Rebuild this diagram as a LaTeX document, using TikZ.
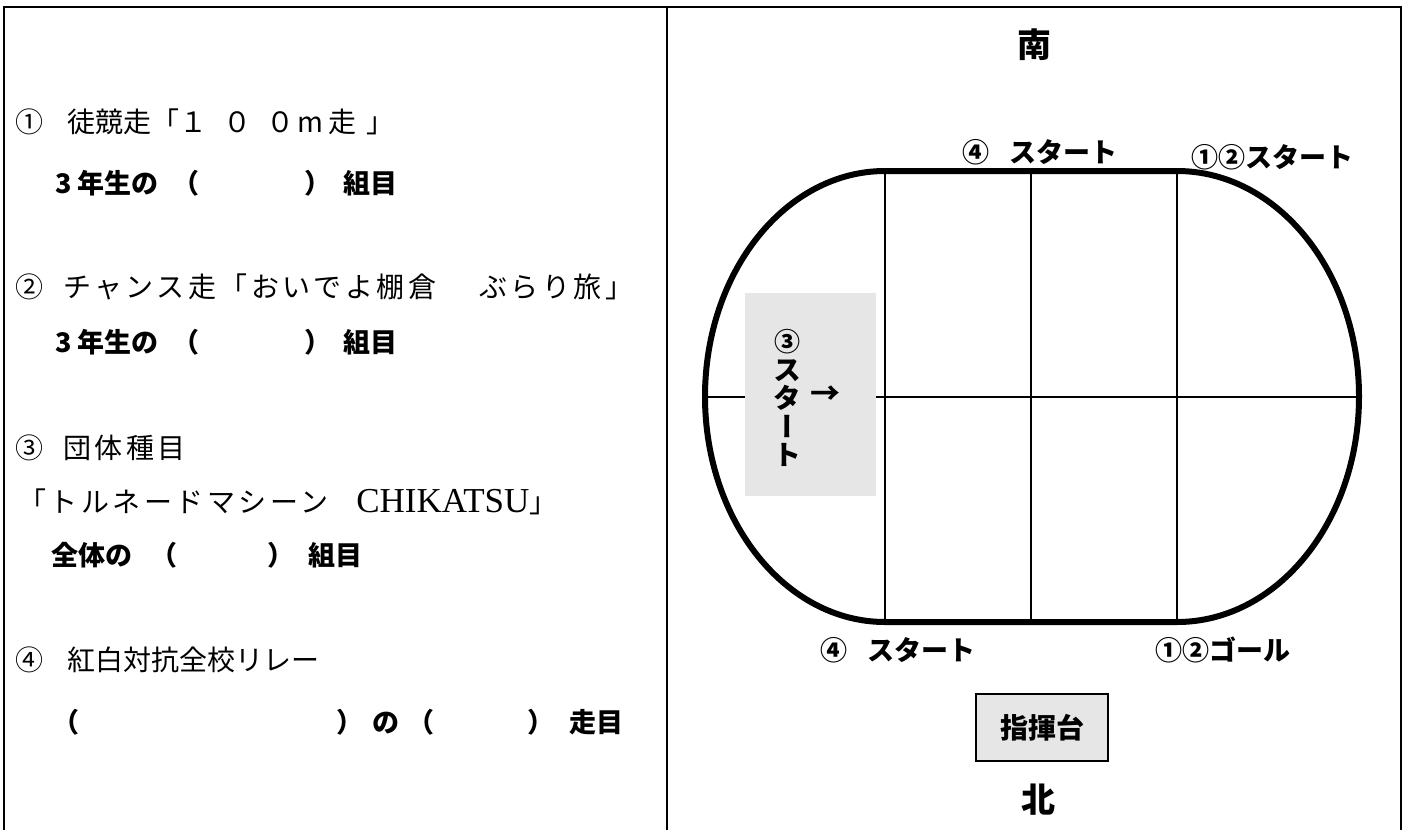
\documentclass[tikz,border=0pt]{standalone}
\usepackage{fontspec}
\newfontfamily\jp{Noto Sans CJK JP}
\newfontfamily\jpwide{Noto Sans CJK JP}[LetterSpace=12.5]
\newfontfamily\jpv{Noto Sans CJK JP}[RawFeature=+vert]
\newfontfamily\lserif{Liberation Serif}
\definecolor{boxgray}{RGB}{230,230,230}
\tikzset{
  frameline/.style={line width=2pt},
  thinline/.style={line width=2pt},
  trackline/.style={line width=6pt},
  mincho/.style={anchor=west, inner sep=0pt, font=\jp\fontsize{28}{28}\selectfont},
  minchowide/.style={anchor=west, inner sep=0pt, font=\jpwide\fontsize{28}{28}\selectfont},
  goth/.style={anchor=west, inner sep=0pt, font=\jp\bfseries\fontsize{27}{27}\selectfont},
  heavy/.style={inner sep=0pt, font=\jp\bfseries\fontsize{27}{27}\selectfont},
  compass/.style={inner sep=0pt, font=\jp\bfseries\fontsize{34}{34}\selectfont},
}
\begin{document}
\begin{tikzpicture}[x=1pt,y=-1pt]
\useasboundingbox (0,0) rectangle (1407,830);
% frame
\coordinate (fbl) at (4,830);
\coordinate (ftl) at (4,7);
\coordinate (ftr) at (1401,7);
\coordinate (fbr) at (1401,830);
\coordinate (dtop) at (667,7);
\coordinate (dbot) at (667,830);
\draw[frameline] (fbl) -- (ftl) -- (ftr) -- (fbr);
\draw[frameline] (dtop) -- (dbot);
% left column text
\node[mincho] (l1) at (15,122) {①\hspace{24pt}徒競走「１\hspace{16pt}０\hspace{15pt}０\hspace{3pt}m\hspace{5pt}走\hspace{10pt}」};
\node[goth] (l2) at (55,183) {3\hspace{6pt}年生の\hspace{14pt}（\hspace{105pt}）\hspace{12pt}組目};
\node[minchowide] (l3) at (15,287) {②\hspace{20pt}チャンス走「おいでよ棚倉　\hspace{12pt}ぶらり旅」};
\node[goth] (l4) at (55,342) {3\hspace{6pt}年生の\hspace{14pt}（\hspace{105pt}）\hspace{12pt}組目};
\node[minchowide] (l5) at (15,448) {③\hspace{20pt}団体種目};
\node[minchowide] (l6) at (18,502) {「トルネードマシーン\hspace{28pt}{\lserif\fontsize{35}{35}\selectfont CHIKATSU}」};
\node[goth] (l7) at (51,555) {全体の\hspace{18pt}（\hspace{90pt}）\hspace{14pt}組目};
\node[mincho] (l8) at (15,660) {④\hspace{24pt}紅白対抗全校リレー};
\node[goth] (l9) at (52,722) {（\hspace{257pt}）\hspace{9pt}の\hspace{8pt}（\hspace{93pt}）\hspace{15pt}走目};
% track grid
\coordinate (v1t) at (885,171); \coordinate (v1b) at (885,622);
\coordinate (v2t) at (1031,171); \coordinate (v2b) at (1031,622);
\coordinate (v3t) at (1177,171); \coordinate (v3b) at (1177,622);
\coordinate (hl) at (705,396.5); \coordinate (hr) at (1359,396.5);
\draw[thinline] (v1t) -- (v1b);
\draw[thinline] (v2t) -- (v2b);
\draw[thinline] (v3t) -- (v3b);
\draw[thinline] (hl) -- (hr);
\draw[trackline] (v1t) -- (v3t) arc[start angle=90, end angle=-90, x radius=182pt, y radius=225.5pt]
  -- (v1b) arc[start angle=270, end angle=90, x radius=180pt, y radius=225.5pt] -- cycle;
% start box 3
\node[fill=boxgray, minimum width=131pt, minimum height=203pt, inner sep=0pt] (box3) at (810.5,394.5) {};
\node[inner sep=0pt, align=center, font=\jpv\bfseries\fontsize{28}{28.5}\selectfont] (s3) at (787,398) {{\fontsize{26}{26}\selectfont ③}\\ス\\タ\\ー\\ト};
\node[inner sep=0pt, font=\jp\bfseries\fontsize{30}{30}\selectfont] (arr) at (825,395) {→};
% labels
\node[compass] (south) at (1034,45) {南};
\node[heavy] (t4) at (1040,152) {④\hspace{20pt}スタート};
\node[heavy] (t12) at (1272,157) {①②スタート};
\node[heavy] (b4) at (898,650) {④\hspace{20pt}スタート};
\node[heavy] (b12) at (1223,650) {①②ゴール};
\node[draw, line width=2pt, fill=boxgray, minimum width=132pt, minimum height=67pt, inner sep=0pt, font=\jp\bfseries\fontsize{28}{28}\selectfont] (podium) at (1042,727.5) {指揮台};
\node[compass] (north) at (1038,800) {北};
\end{tikzpicture}
\end{document}
